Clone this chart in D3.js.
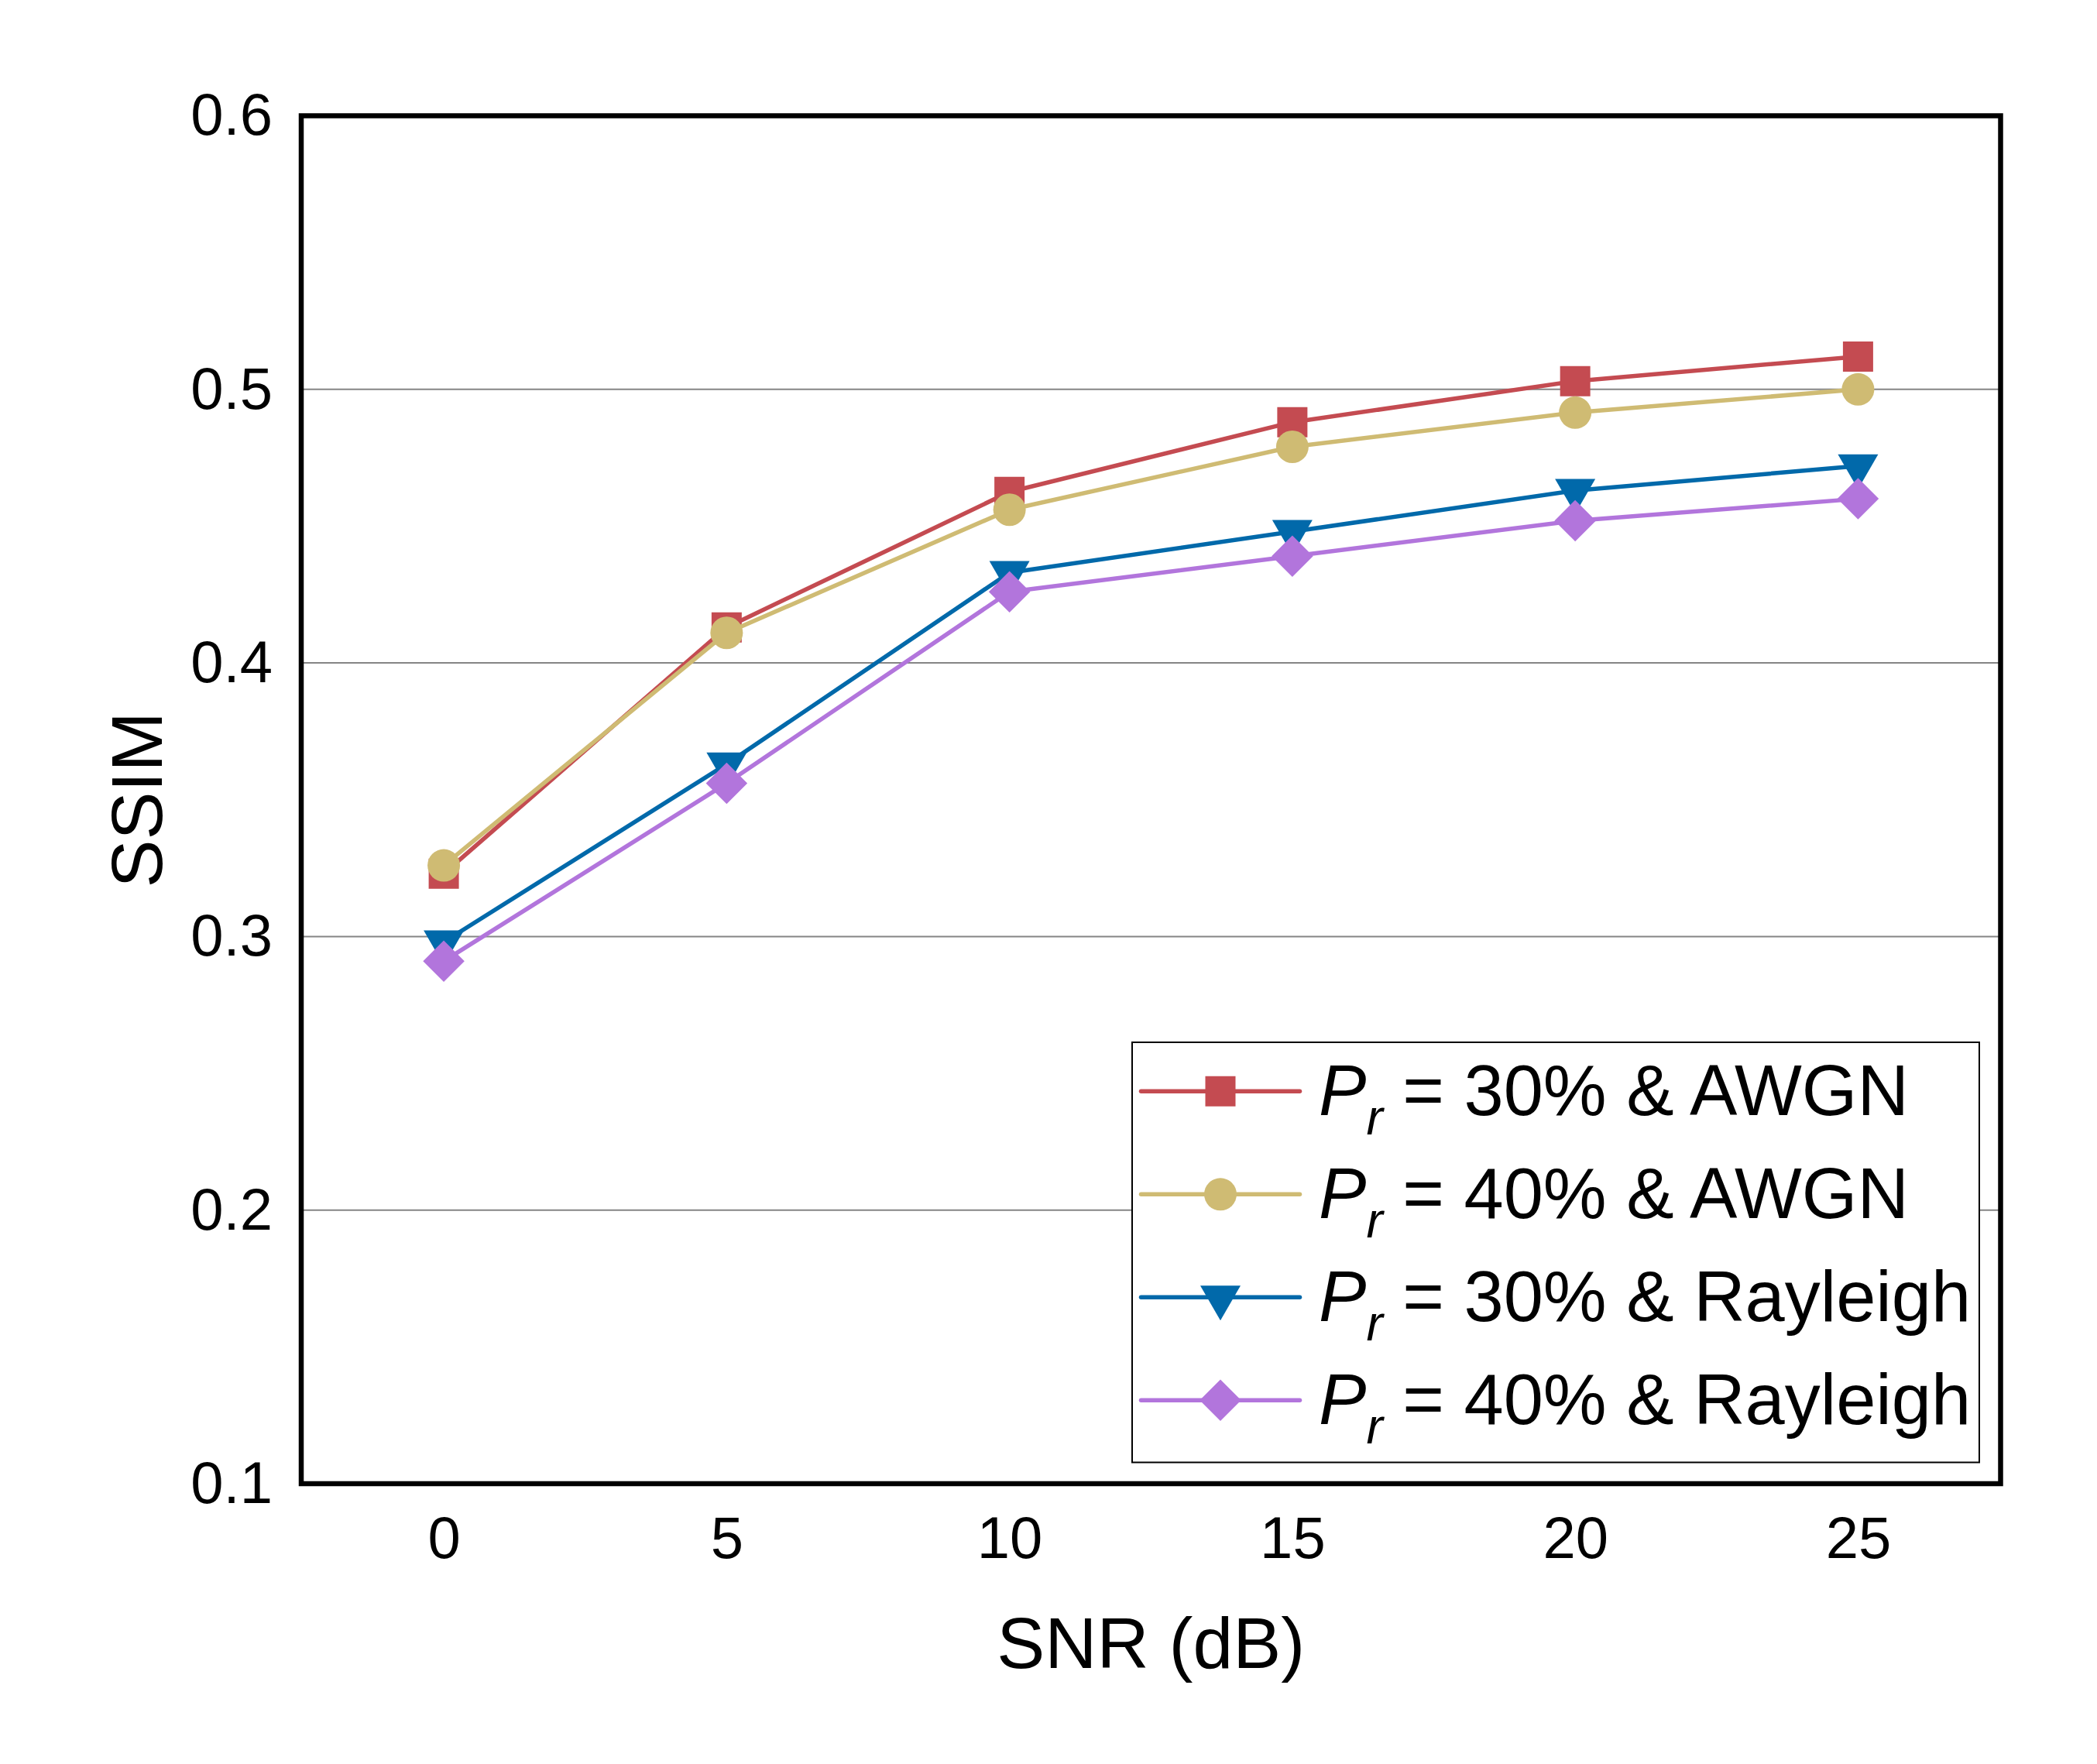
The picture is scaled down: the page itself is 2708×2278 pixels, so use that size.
<!DOCTYPE html>
<html>
<head>
<meta charset="utf-8">
<script src="https://cdn.jsdelivr.net/npm/d3@7"></script>
<style>
  html, body { margin: 0; padding: 0; background: #ffffff; }
  svg { display: block; font-family: "Liberation Sans", Arial, Helvetica, sans-serif; }
</style>
</head>
<body>
<svg id="chart" width="2708" height="2278"></svg>
<script>
// ---- data ----
const snr = [0, 5, 10, 15, 20, 25];
const xTicks = [0, 5, 10, 15, 20, 25];
const yTicks = [0.1, 0.2, 0.3, 0.4, 0.5, 0.6];
const gridValues = [0.2, 0.3, 0.4, 0.5];

const pr30AWGN     = [0.323, 0.413, 0.4625, 0.488, 0.503, 0.512];
const pr40AWGN     = [0.326, 0.411, 0.456, 0.479, 0.4915, 0.500];
const pr30Rayleigh = [0.298, 0.363, 0.433, 0.448, 0.463, 0.472];
const pr40Rayleigh = [0.291, 0.356, 0.426, 0.439, 0.452, 0.460];

const seriesLabelRest = [" = 30% & AWGN", " = 40% & AWGN", " = 30% & Rayleigh", " = 40% & Rayleigh"];
const seriesValues = [pr30AWGN, pr40AWGN, pr30Rayleigh, pr40Rayleigh];
const seriesColors = ["#C44B51", "#CFBB73", "#0169AA", "#B275DC"];
const seriesMarkers = ["square", "circle", "triangleDown", "diamond"];

const xTitle = "SNR (dB)";
const yTitle = "SSIM";

// ---- layout ----
const plotL = 389, plotR = 2583.5, plotT = 149.5, plotB = 1916;

const svg = d3.select("#chart");
const x = d3.scaleLinear().domain([-2.52, 27.52]).range([plotL, plotR]);
const y = d3.scaleLinear().domain([0.1, 0.6]).range([plotB, plotT]);

// gridlines
svg.append("g")
  .selectAll("line")
  .data(gridValues)
  .join("line")
  .attr("x1", plotL).attr("x2", plotR)
  .attr("y1", d => y(d)).attr("y2", d => y(d))
  .attr("stroke", "#858585")
  .attr("stroke-width", 2);

// axes (labels only)
const yAxis = svg.append("g")
  .attr("transform", `translate(${plotL},0)`)
  .call(d3.axisLeft(y).tickValues(yTicks).tickFormat(d3.format(".1f")).tickSize(0).tickPadding(37));
yAxis.select(".domain").remove();
yAxis.selectAll("text")
  .attr("font-size", 76)
  .attr("fill", "#000")
  .attr("font-family", "'Liberation Sans', Arial, sans-serif");

const xAxis = svg.append("g")
  .attr("transform", `translate(0,${plotB})`)
  .call(d3.axisBottom(x).tickValues(xTicks).tickFormat(d3.format("d")).tickSize(0).tickPadding(42));
xAxis.select(".domain").remove();
xAxis.selectAll("text")
  .attr("font-size", 76)
  .attr("fill", "#000")
  .attr("font-family", "'Liberation Sans', Arial, sans-serif");

// axis titles
svg.append("text")
  .attr("x", (plotL + plotR) / 2)
  .attr("y", 2154)
  .attr("text-anchor", "middle")
  .attr("font-size", 93)
  .attr("fill", "#000")
  .text(xTitle);

svg.append("text")
  .attr("transform", `translate(209,${(plotT + plotB) / 2}) rotate(-90)`)
  .attr("text-anchor", "middle")
  .attr("font-size", 93)
  .attr("fill", "#000")
  .text(yTitle);

// markers
function markerPath(kind) {
  if (kind === "square") return d3.symbol(d3.symbolSquare, 1521)();
  if (kind === "circle") return d3.symbol(d3.symbolCircle, 1385)();
  if (kind === "triangleDown") return d3.symbol(d3.symbolTriangle, 1171)();
  if (kind === "diamond") return d3.symbol(d3.symbolSquare, 1431)();
  return d3.symbol(d3.symbolCircle, 1000)();
}
function markerRotate(kind) {
  if (kind === "triangleDown") return 180;
  if (kind === "diamond") return 45;
  return 0;
}

const line = d3.line().x((d, i) => x(snr[i])).y(d => y(d));

const seriesG = svg.append("g");
seriesValues.forEach((vals, s) => {
  const g = seriesG.append("g");
  g.append("path")
    .attr("d", line(vals))
    .attr("fill", "none")
    .attr("stroke", seriesColors[s])
    .attr("stroke-width", 5.5)
    .attr("stroke-linejoin", "round");
  g.selectAll("path.m")
    .data(vals)
    .join("path")
    .attr("class", "m")
    .attr("d", markerPath(seriesMarkers[s]))
    .attr("transform", (d, i) => `translate(${x(snr[i])},${y(d)}) rotate(${markerRotate(seriesMarkers[s])})`)
    .attr("fill", seriesColors[s]);
});

// plot frame
svg.append("rect")
  .attr("x", plotL).attr("y", plotT)
  .attr("width", plotR - plotL).attr("height", plotB - plotT)
  .attr("fill", "none")
  .attr("stroke", "#000")
  .attr("stroke-width", 6.5);

// legend
const legL = 1462, legR = 2556, legT = 1346, legB = 1888.5;
const legRow0 = 1409.3, legStep = 133;
const legend = svg.append("g");
legend.append("rect")
  .attr("x", legL).attr("y", legT)
  .attr("width", legR - legL).attr("height", legB - legT)
  .attr("fill", "#fff")
  .attr("stroke", "#000")
  .attr("stroke-width", 2);

seriesLabelRest.forEach((rest, s) => {
  const cy = legRow0 + s * legStep;
  legend.append("line")
    .attr("x1", 1473.5).attr("x2", 1678.5)
    .attr("y1", cy).attr("y2", cy)
    .attr("stroke", seriesColors[s])
    .attr("stroke-width", 5.5)
    .attr("stroke-linecap", "round");
  legend.append("path")
    .attr("d", markerPath(seriesMarkers[s]))
    .attr("transform", `translate(1576,${cy}) rotate(${markerRotate(seriesMarkers[s])})`)
    .attr("fill", seriesColors[s]);
  const t = legend.append("text")
    .attr("x", 1703)
    .attr("y", cy + 30.7)
    .attr("font-size", 92)
    .attr("fill", "#000");
  t.append("tspan").attr("font-style", "italic").text("P");
  t.append("tspan").attr("font-style", "italic").attr("font-size", 64).attr("dy", 25).text("r");
  t.append("tspan").attr("dy", -25).text(rest);
});
</script>
</body>
</html>
